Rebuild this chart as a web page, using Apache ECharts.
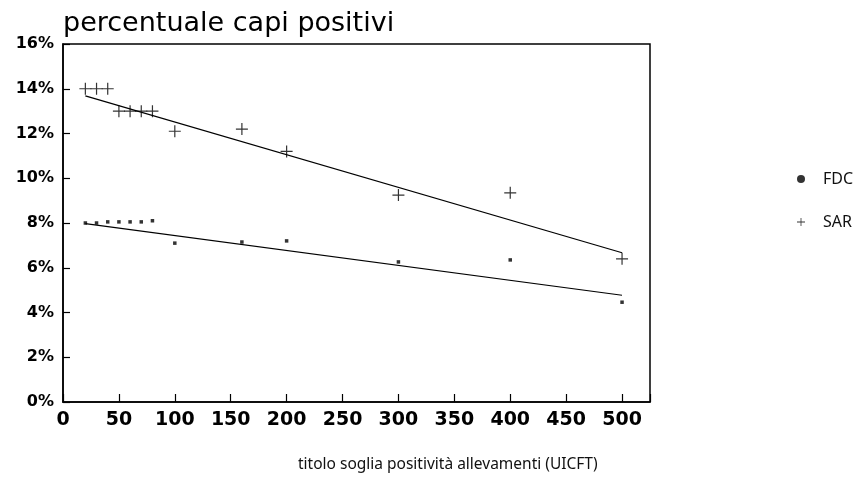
<!DOCTYPE html>
<html>
<head>
<meta charset="utf-8">
<script src="https://cdn.jsdelivr.net/npm/echarts@6/dist/echarts.min.js"></script>
<style>
  html, body { margin: 0; padding: 0; background: #fff; }
  #chart { width: 856px; height: 483px; }
</style>
</head>
<body>
<div id="chart"></div>
<script>
// soglie (UICFT) e percentuali
const sarX = [20, 30, 40, 50, 60, 70, 80, 100, 160, 200, 300, 400, 500];
const sarY = [14, 14, 14, 13, 13, 13, 13, 12.1, 12.2, 11.2, 9.25, 9.35, 6.4];
const fdcX = [20, 30, 40, 50, 60, 70, 80, 100, 160, 200, 300, 400, 500];
const fdcY = [8.0, 8.0, 8.05, 8.05, 8.05, 8.05, 8.1, 7.1, 7.15, 7.2, 6.26, 6.35, 4.46];
// rette di regressione (estremi)
const sarFit = [[20, 13.68], [500, 6.67]];
const fdcFit = [[20, 7.97], [500, 4.77]];
const yTicks = [0, 2, 4, 6, 8, 10, 12, 14, 16];

const plusPath = 'path://M5.4,0H6.6V5.4H12V6.6H6.6V12H5.4V6.6H0V5.4H5.4Z';

const chart = echarts.init(document.getElementById('chart'));
const option = {
  animation: false,
  backgroundColor: '#fff',
  title: {
    text: 'percentuale capi positivi',
    left: 58,
    top: 5,
    textStyle: { fontFamily: 'DejaVu Sans', fontSize: 27, fontWeight: 'normal', color: '#000' }
  },
  legend: {
    orient: 'vertical',
    left: 792,
    top: 166,
    itemWidth: 8,
    itemHeight: 8,
    itemGap: 27,
    textStyle: { fontFamily: 'Noto Sans', fontSize: 16, color: '#111', padding: [0, 0, 0, 13] },
    data: [
      { name: 'FDC', icon: 'circle' },
      { name: 'SAR', icon: plusPath }
    ]
  },
  grid: {
    left: 63, right: 206, top: 44, bottom: 81,
    show: true, borderColor: '#000', borderWidth: 1.5
  },
  xAxis: {
    type: 'value',
    min: 0, max: 525, interval: 50,
    splitLine: { show: false },
    axisLine: { lineStyle: { color: '#000', width: 1.5 } },
    axisTick: { inside: true, length: 8, lineStyle: { color: '#000', width: 1.2 } },
    axisLabel: {
      margin: 9,
      fontFamily: 'DejaVu Sans', fontSize: 19, fontWeight: 'bold', color: '#000',
      formatter: v => (v > 500 ? '' : String(v))
    }
  },
  yAxis: {
    type: 'value',
    min: yTicks[0], max: yTicks[yTicks.length - 1], interval: 2,
    splitLine: { show: false },
    axisLine: { lineStyle: { color: '#000', width: 1.5 } },
    axisTick: { inside: true, length: 7, lineStyle: { color: '#000', width: 1.2 } },
    axisLabel: {
      margin: 9,
      fontFamily: 'DejaVu Sans', fontSize: 16, fontWeight: 'bold', color: '#000',
      formatter: '{value}%'
    }
  },
  graphic: [{
    type: 'text',
    left: 298,
    top: 457,
    style: {
      text: 'titolo soglia positività allevamenti (UICFT)',
      font: '15.5px "Noto Sans"',
      fill: '#111'
    }
  }],
  series: [
    {
      name: 'FDC',
      type: 'scatter',
      symbol: 'rect',
      symbolSize: 3.5,
      itemStyle: { color: '#000' },
      data: fdcX.map((x, i) => [x, fdcY[i]])
    },
    {
      name: 'SAR',
      type: 'scatter',
      symbol: plusPath,
      symbolSize: 12,
      itemStyle: { color: '#000' },
      data: sarX.map((x, i) => [x, sarY[i]])
    },
    {
      name: 'fitSAR',
      type: 'line',
      showSymbol: false,
      lineStyle: { color: '#000', width: 1.2 },
      data: sarFit
    },
    {
      name: 'fitFDC',
      type: 'line',
      showSymbol: false,
      lineStyle: { color: '#000', width: 1.2 },
      data: fdcFit
    }
  ]
};
chart.setOption(option);
</script>
</body>
</html>
